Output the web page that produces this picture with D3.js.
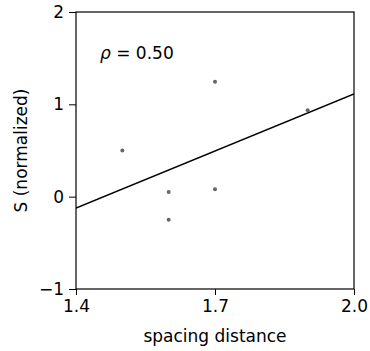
<!DOCTYPE html>
<html>
<head>
<meta charset="utf-8">
<script src="https://cdn.jsdelivr.net/npm/d3@7"></script>
<style>
  body { margin: 0; background: #fff; }
  text { font-family: "DejaVu Sans", sans-serif; fill: #000; }
</style>
</head>
<body>
<div id="chart"></div>
<script>
// values
const spacing = [1.5, 1.6, 1.6, 1.7, 1.7, 1.9];
const sNorm = [0.50, 0.05, -0.25, 1.245, 0.08, 0.935];
const xTicks = [1.4, 1.7, 2.0];
const yTicks = [-1, 0, 1, 2];
const rhoLabel = "0.50";

const dim = { outer_width: 370, outer_height: 351, ml: 76, mt: 12, mr: 16, mb: 62 };
dim.width = dim.outer_width - dim.ml - dim.mr;
dim.height = dim.outer_height - dim.mt - dim.mb;

const svg = d3.select("#chart").append("svg")
  .attr("width", dim.outer_width).attr("height", dim.outer_height);
const main_g = svg.append("g").attr("transform", "translate(" + dim.ml + "," + dim.mt + ")");

const x = d3.scaleLinear().domain([1.4, 2.0]).range([0, dim.width]);
const y = d3.scaleLinear().domain([-1, 2]).range([dim.height, 0]);

// least squares fit
const mx = d3.mean(spacing), my = d3.mean(sNorm);
const slope = d3.sum(spacing, (v, i) => (v - mx) * (sNorm[i] - my)) / d3.sum(spacing, v => (v - mx) ** 2);
const icpt = my - slope * mx;
const fitX = x.domain();

main_g.append("clipPath").attr("id", "clip")
  .append("rect").attr("width", dim.width).attr("height", dim.height);

const plot = main_g.append("g").attr("clip-path", "url(#clip)");

plot.append("line")
  .attr("x1", x(fitX[0])).attr("y1", y(icpt + slope * fitX[0]))
  .attr("x2", x(fitX[1])).attr("y2", y(icpt + slope * fitX[1]))
  .attr("stroke", "#000").attr("stroke-width", 1.5);

plot.selectAll("circle").data(spacing).join("circle")
  .attr("cx", d => x(d))
  .attr("cy", (d, i) => y(sNorm[i]))
  .attr("r", 2)
  .attr("fill", "#666");

const fmt = d => d < 0 ? "\u2212" + Math.abs(d) : String(d);

const xa = main_g.append("g").attr("transform", "translate(0," + dim.height + ")")
  .call(d3.axisBottom(x).tickValues(xTicks).tickFormat(d3.format(".1f")).tickSizeOuter(0).tickSize(6).tickPadding(5));
const ya = main_g.append("g")
  .call(d3.axisLeft(y).tickValues(yTicks).tickFormat(fmt).tickSizeOuter(0).tickSize(7).tickPadding(5));
[xa, ya].forEach(a => {
  a.select(".domain").remove();
  a.selectAll("text").style("font-size", "17px").attr("fill", "#000")
    .style("font-family", "'DejaVu Sans', sans-serif");
  a.selectAll("line").attr("stroke", "#000");
});

main_g.append("rect")
  .attr("width", dim.width).attr("height", dim.height)
  .attr("fill", "none").attr("stroke", "#000").attr("stroke-width", 1.2);

const rho = main_g.append("text").attr("x", 24).attr("y", 47).style("font-size", "17px");
rho.append("tspan").style("font-style", "italic").text("\u03c1");
rho.append("tspan").text(" = " + rhoLabel);

svg.append("text")
  .attr("x", dim.ml + dim.width / 2).attr("y", 342)
  .attr("text-anchor", "middle").style("font-size", "17px")
  .text("spacing distance");

svg.append("text")
  .attr("transform", "translate(27," + (dim.mt + dim.height / 2) + ") rotate(-90)")
  .attr("text-anchor", "middle").style("font-size", "17px")
  .text("S (normalized)");
</script>
</body>
</html>
